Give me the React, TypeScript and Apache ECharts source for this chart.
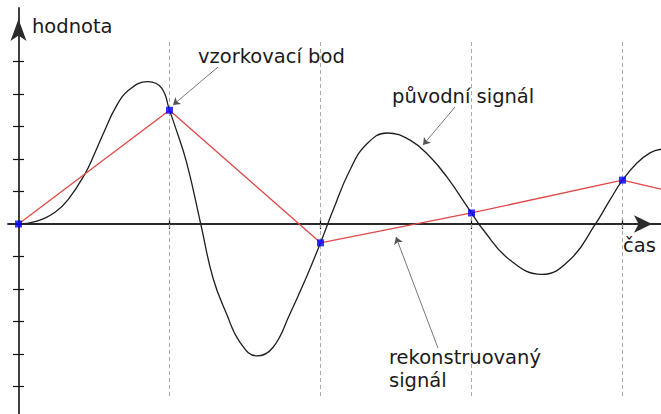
import React, { useEffect, useRef } from 'react';
import * as echarts from 'echarts';

// Sampling instants and sampled values
const sampleTimes = [0, 1, 2, 3, 4];
const sampleValues = [0, 3.5, -0.58, 0.34, 1.35];
// reconstructed signal continues past the last sample to the chart edge
const reconTailTime = 4.255;
const reconTailValue = 1.07;

// Original signal
const signalTimes = [
  0, 0.109, 0.242, 0.33, 0.44, 0.507, 0.573, 0.639, 0.725, 0.858, 0.948, 1.0,
  1.036, 1.114, 1.207, 1.288, 1.379, 1.467, 1.577, 1.685, 1.798, 1.908, 2.0,
  2.083, 2.195, 2.306, 2.441, 2.593, 2.725, 2.838, 3.0, 3.076, 3.255,
  3.465, 3.652, 3.817, 3.917, 4.0, 4.094, 4.182, 4.255,
];
const signalValues = [
  0, 0.07, 0.36, 0.76, 1.54, 2.2, 2.9, 3.55, 4.1, 4.38, 4.18, 3.5,
  3.02, 1.88, 0, -1.66, -2.78, -3.64, -4.06, -3.8, -2.76, -1.62, -0.58,
  0.42, 1.66, 2.46, 2.8, 2.58, 2.07, 1.44, 0.34, -0.17, -1.11,
  -1.55, -1.1, -0.03, 0.74, 1.35, 1.87, 2.19, 2.3,
];

const xTickValues = [1, 2, 3, 4];
const yTickValues = [-5, -4, -3, -2, -1, 1, 2, 3, 4, 5];

// axis ranges
const X_MIN = -0.0695;
const X_MAX = 4.255;
const Y_MIN = -5.846;
const Y_MAX = 6.646;

// vertical guide extent
const guideTop = 5.6;
const guideBottom = -5.32;

// annotation arrows: [fromX, fromY, toX, toY]
const annotationArrows = [
  [1.321, 4.83, 1.023, 3.66],
  [2.891, 3.6, 2.679, 2.43],
  [2.778, -3.815, 2.5, -0.4],
];

const axisTitleY = 'hodnota';
const axisTitleX = 'čas';
const labelSample = 'vzorkovací bod';
const labelOriginal = 'původní signál';
const labelRecon1 = 'rekonstruovaný';
const labelRecon2 = 'signál';

const FONT = 'DejaVu Sans';
const FS = 19.5;

export default function App() {
  const ref = useRef<HTMLDivElement>(null);

  useEffect(() => {
    if (!ref.current) return;
    const chart = echarts.init(ref.current, undefined, { renderer: 'svg' });

    const signalData = signalTimes.map((t, i) => [t, signalValues[i]]);
    const reconData = sampleTimes
      .map((t, i) => [t, sampleValues[i]])
      .concat([[reconTailTime, reconTailValue]]);
    const sampleData = sampleTimes.map((t, i) => [t, sampleValues[i]]);

    const axisLineStyle = { color: '#2b2b2b', width: 1.8 };
    const tickStyle = { color: '#111', width: 1.2 };

    const textEl = (text: string, x: number, y: number) => ({
      type: 'text',
      x,
      y,
      silent: true,
      z: 100,
      style: {
        text,
        fill: '#1a1a1a',
        fontSize: FS,
        fontFamily: FONT,
        textAlign: 'left',
        textVerticalAlign: 'middle',
      },
    });

    const option: any = {
      animation: false,
      backgroundColor: '#ffffff',
      grid: { left: 8, right: 0, top: 8, bottom: 0, containLabel: false },
      xAxis: [
        {
          type: 'value',
          position: 'bottom',
          min: X_MIN,
          max: X_MAX,
          axisLine: {
            show: true,
            onZero: true,
            onZeroAxisIndex: 0,
            symbol: ['none', 'arrow'],
            symbolSize: [13, 18],
            symbolOffset: [0, -9],
            lineStyle: axisLineStyle,
          },
          axisTick: { show: true, customValues: xTickValues, inside: false, length: 5, lineStyle: tickStyle },
          axisLabel: { show: false },
          splitLine: { show: false },
        },
        {
          type: 'value',
          position: 'bottom',
          min: X_MIN,
          max: X_MAX,
          axisLine: { show: true, onZero: true, onZeroAxisIndex: 0, lineStyle: { opacity: 0 } },
          axisTick: { show: true, customValues: xTickValues, inside: true, length: 5, lineStyle: tickStyle },
          axisLabel: { show: false },
          splitLine: { show: false },
        },
      ],
      yAxis: [
        {
          type: 'value',
          position: 'left',
          min: Y_MIN,
          max: Y_MAX,
          axisLine: {
            show: true,
            onZero: true,
            onZeroAxisIndex: 0,
            symbol: ['none', 'arrow'],
            symbolSize: [12, 22],
            symbolOffset: [0, -11],
            lineStyle: axisLineStyle,
          },
          axisTick: { show: true, customValues: yTickValues, inside: false, length: 5.5, lineStyle: tickStyle },
          axisLabel: { show: false },
          splitLine: { show: false },
        },
        {
          type: 'value',
          position: 'left',
          min: Y_MIN,
          max: Y_MAX,
          axisLine: { show: true, onZero: true, onZeroAxisIndex: 0, lineStyle: { opacity: 0 } },
          axisTick: { show: true, customValues: yTickValues, inside: true, length: 5.5, lineStyle: tickStyle },
          axisLabel: { show: false },
          splitLine: { show: false },
        },
      ],
      series: [
        {
          name: 'původní signál',
          type: 'line',
          xAxisIndex: 0,
          yAxisIndex: 0,
          data: signalData,
          smooth: 0.45,
          showSymbol: false,
          silent: true,
          z: 3,
          lineStyle: { color: '#1e1e1e', width: 1.3 },
          markLine: {
            silent: true,
            symbol: ['none', 'arrow'],
            symbolSize: 7,
            label: { show: false },
            lineStyle: { color: '#555', width: 0.8, type: 'solid' },
            emphasis: { disabled: true },
            data: annotationArrows.map((a) => [
              { coord: [a[0], a[1]] },
              { coord: [a[2], a[3]] },
            ]),
          },
        },
        {
          name: 'rekonstruovaný signál',
          type: 'line',
          xAxisIndex: 0,
          yAxisIndex: 0,
          data: reconData,
          showSymbol: false,
          silent: true,
          z: 4,
          lineStyle: { color: '#e04848', width: 1.3 },
          markLine: {
            silent: true,
            symbol: ['none', 'none'],
            label: { show: false },
            lineStyle: { color: '#a0a0a0', width: 0.9, type: [4, 3] },
            emphasis: { disabled: true },
            data: sampleTimes.slice(1).map((t) => [
              { coord: [t, guideTop] },
              { coord: [t, guideBottom] },
            ]),
          },
        },
        {
          name: 'vzorkovací bod',
          type: 'scatter',
          xAxisIndex: 0,
          yAxisIndex: 0,
          data: sampleData,
          symbol: 'rect',
          symbolSize: 7,
          silent: true,
          z: 5,
          itemStyle: { color: '#0000ff' },
        },
      ],
      graphic: [
        textEl(axisTitleY, 32, 26),
        textEl(labelSample, 198, 56.5),
        textEl(labelOriginal, 392, 96.5),
        textEl(labelRecon1, 389, 357),
        textEl(labelRecon2, 389, 380.5),
        textEl(axisTitleX, 623, 245),
      ],
    };

    chart.setOption(option);
    return () => chart.dispose();
  }, []);

  return (
    <div
      ref={ref}
      style={{ position: 'fixed', left: 0, top: 0, width: 661, height: 414, background: '#fff' }}
    />
  );
}
